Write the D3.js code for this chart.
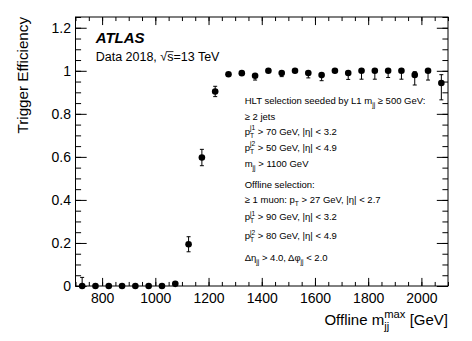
<!DOCTYPE html>
<html>
<head>
<meta charset="utf-8">
<script src="https://cdn.jsdelivr.net/npm/d3@7"></script>
<style>
  html, body { margin: 0; padding: 0; background: #fff; }
  text { font-family: "Liberation Sans", Arial, Helvetica, sans-serif; fill: #000; white-space: pre; }
</style>
</head>
<body>
<div id="chart"></div>
<script>
// bin centres of the offline m_jj^max histogram (GeV)
const binCenters = [725, 775, 825, 875, 925, 975, 1025, 1075, 1125, 1175, 1225, 1275, 1325, 1375,
  1425, 1475, 1525, 1575, 1625, 1675, 1725, 1775, 1825, 1875, 1925, 1975, 2025, 2075];
const efficiency = [0, 0, 0, 0, 0, 0, 0, 0.01, 0.194, 0.597, 0.904, 0.984, 0.989, 0.977,
  1.0, 0.99, 1.0, 0.99, 0.98, 1.0, 0.99, 1.0, 1.0, 1.0, 1.0, 0.981, 1.0, 0.943];
const errUp = [0.04, 0.01, 0.01, 0.005, 0.005, 0.005, 0.005, 0.01, 0.035, 0.038, 0.024, 0.008, 0.007, 0.01,
  0, 0.007, 0, 0.007, 0.01, 0, 0.008, 0, 0, 0, 0, 0.015, 0, 0.039];
const errDown = [0, 0, 0, 0, 0, 0, 0, 0.006, 0.035, 0.038, 0.024, 0.012, 0.012, 0.02,
  0.01, 0.017, 0.01, 0.023, 0.026, 0.012, 0.03, 0.039, 0.039, 0.031, 0.039, 0.047, 0.043, 0.078];

const xMajorTicks = [800, 1000, 1200, 1400, 1600, 1800, 2000];
const xMinorTicks = d3.range(700, 2101, 50);
const yMajorTicks = [0, 0.2, 0.4, 0.6, 0.8, 1, 1.2];
const yMinorTicks = d3.range(0, 1.2501, 0.05);
const yTickLabels = ["0", "0.2", "0.4", "0.6", "0.8", "1", "1.2"];

// selection text, one entry per line
const selectionLines = [
  [{t: "HLT selection seeded by L1 m"}, {t: "jj", sub: true}, {t: " \u2265 500 GeV:"}],
  [{t: "\u2265 2 jets"}],
  [{t: "p"}, {t: "j1", sup: true}, {t: "T", sub: true, stack: true}, {t: " > 70 GeV, |\u03b7| < 3.2"}],
  [{t: "p"}, {t: "j2", sup: true}, {t: "T", sub: true, stack: true}, {t: " > 50 GeV, |\u03b7| < 4.9"}],
  [{t: "m"}, {t: "jj", sub: true}, {t: " > 1100 GeV"}],
  [{t: "Offline selection:"}],
  [{t: "\u2265 1 muon: p"}, {t: "T", sub: true}, {t: " > 27 GeV, |\u03b7| < 2.7"}],
  [{t: "p"}, {t: "j1", sup: true}, {t: "T", sub: true, stack: true}, {t: " > 90 GeV, |\u03b7| < 3.2"}],
  [{t: "p"}, {t: "j2", sup: true}, {t: "T", sub: true, stack: true}, {t: " > 80 GeV, |\u03b7| < 4.9"}],
  [{t: "\u0394\u03b7"}, {t: "jj", sub: true}, {t: " > 4.0, \u0394\u03c6"}, {t: "jj", sub: true}, {t: " < 2.0"}],
];
const selectionBaselines = [104, 119.7, 134.7, 150.7, 167.3, 187.7, 203.3, 220, 239.3, 261];

const width = 472, height = 341;
const margin = {top: 17, right: 24, bottom: 55, left: 75.5};

const svg = d3.select('#chart').append('svg')
  .attr('width', width)
  .attr('height', height);

const x = d3.scaleLinear().domain([700, 2100]).range([margin.left, width - margin.right]);
const y = d3.scaleLinear().domain([0, 1.25]).range([height - margin.bottom, margin.top]);

const plotW = x.range()[1] - x.range()[0];
const plotH = y.range()[0] - y.range()[1];

// draws a line of text with sub/superscripts, returns the group
function richText(parent, px, py, segs, fs, anchor, scale) {
  const g = parent.append('g');
  let cx = 0, prevStart = 0, prevW = 0;
  segs.forEach((s) => {
    const size = s.sub || s.sup ? fs * (scale || 0.7) : fs;
    const dy = s.sub ? fs * (s.subShift || 0.33) : s.sup ? -fs * (s.supShift || 0.45) : 0;
    const start = s.stack ? prevStart : cx;
    const t = g.append('text')
      .attr('x', start)
      .attr('y', dy)
      .style('font-size', size + 'px')
      .text(s.t);
    const w = t.node().getComputedTextLength();
    if (s.stack) {
      prevW = Math.max(prevW, w);
      cx = prevStart + prevW;
    } else {
      prevStart = start;
      prevW = w;
      cx = start + w;
    }
  });
  const ox = anchor === 'end' ? px - cx : px;
  g.attr('transform', `translate(${ox},${py})`);
  return g;
}

// axes (ticks pointing inwards, ROOT style)
const xTickLen = plotH * 0.03;
const yTickLen = plotW * 0.03;

function styleAxis(g) {
  g.select('.domain').remove();
  g.selectAll('line').attr('stroke', '#000').attr('stroke-width', 1);
  g.selectAll('text').style('font-size', '14px').attr('fill', '#000');
}

svg.append('g')
  .attr('transform', `translate(0,${y(0)})`)
  .call(d3.axisBottom(x).tickValues(xMajorTicks).tickSize(-xTickLen).tickPadding(7).tickFormat(d3.format('d')))
  .call(styleAxis);
svg.append('g')
  .attr('transform', `translate(0,${y(0)})`)
  .call(d3.axisBottom(x).tickValues(xMinorTicks).tickSize(-xTickLen / 2).tickFormat(''))
  .call(styleAxis);
svg.append('g')
  .attr('transform', `translate(0,${y.range()[1]})`)
  .call(d3.axisTop(x).tickValues(xMajorTicks).tickSize(-xTickLen).tickFormat(''))
  .call(styleAxis);
svg.append('g')
  .attr('transform', `translate(0,${y.range()[1]})`)
  .call(d3.axisTop(x).tickValues(xMinorTicks).tickSize(-xTickLen / 2).tickFormat(''))
  .call(styleAxis);

svg.append('g')
  .attr('transform', `translate(${x.range()[0]},0)`)
  .call(d3.axisLeft(y).tickValues(yMajorTicks).tickSize(-yTickLen).tickPadding(4.5)
    .tickFormat((d, i) => yTickLabels[i]))
  .call(styleAxis);
svg.append('g')
  .attr('transform', `translate(${x.range()[0]},0)`)
  .call(d3.axisLeft(y).tickValues(yMinorTicks).tickSize(-yTickLen / 2).tickFormat(''))
  .call(styleAxis);
svg.append('g')
  .attr('transform', `translate(${x.range()[1]},0)`)
  .call(d3.axisRight(y).tickValues(yMajorTicks).tickSize(-yTickLen).tickFormat(''))
  .call(styleAxis);
svg.append('g')
  .attr('transform', `translate(${x.range()[1]},0)`)
  .call(d3.axisRight(y).tickValues(yMinorTicks).tickSize(-yTickLen / 2).tickFormat(''))
  .call(styleAxis);

// frame
svg.append('rect')
  .attr('x', x.range()[0])
  .attr('y', y.range()[1])
  .attr('width', plotW)
  .attr('height', plotH)
  .attr('fill', 'none')
  .attr('stroke', '#000')
  .attr('stroke-width', 1);

// data points with asymmetric error bars
const data = binCenters.map((c, i) => ({c, v: efficiency[i], up: errUp[i], dn: errDown[i]}));
const pts = svg.append('g').selectAll('g').data(data).enter().append('g');

pts.append('line')
  .attr('x1', (d) => x(d.c)).attr('x2', (d) => x(d.c))
  .attr('y1', (d) => y(d.v + d.up)).attr('y2', (d) => y(d.v - d.dn))
  .attr('stroke', '#000').attr('stroke-width', 1);
pts.filter((d) => d.up > 0.012).append('line')
  .attr('x1', (d) => x(d.c) - 2).attr('x2', (d) => x(d.c) + 2)
  .attr('y1', (d) => y(d.v + d.up)).attr('y2', (d) => y(d.v + d.up))
  .attr('stroke', '#000');
pts.filter((d) => d.dn > 0.012).append('line')
  .attr('x1', (d) => x(d.c) - 2).attr('x2', (d) => x(d.c) + 2)
  .attr('y1', (d) => y(d.v - d.dn)).attr('y2', (d) => y(d.v - d.dn))
  .attr('stroke', '#000');
pts.append('circle')
  .attr('cx', (d) => x(d.c))
  .attr('cy', (d) => y(d.v))
  .attr('r', 3.3)
  .attr('fill', '#000');

// axis titles
richText(svg, x.range()[1], 325,
  [{t: "Offline m"}, {t: "max", sup: true, supShift: 0.48}, {t: "jj", sub: true, stack: true, subShift: 0.36}, {t: " [GeV]"}],
  15, 'end', 0.75);

svg.append('text')
  .attr('transform', `translate(28,${y.range()[1]}) rotate(-90)`)
  .attr('text-anchor', 'end')
  .style('font-size', '15.2px')
  .text('Trigger Efficiency');

// ATLAS label
svg.append('text')
  .attr('x', 95.7).attr('y', 43)
  .style('font-size', '15px')
  .style('font-weight', 'bold')
  .style('font-style', 'italic')
  .text('ATLAS');

const dataLbl = svg.append('text').attr('x', 95.7).attr('y', 61).style('font-size', '12.5px');
dataLbl.append('tspan').text('Data 2018, \u221a');
dataLbl.append('tspan').attr('class', 'rt').text('s');
dataLbl.append('tspan').text('=13 TeV');
// overline of the square root
const sBox = dataLbl.select('.rt').node().getBBox();
svg.append('line')
  .attr('x1', sBox.x - 0.5).attr('x2', sBox.x + sBox.width)
  .attr('y1', 61 - 9.4).attr('y2', 61 - 9.4)
  .attr('stroke', '#000').attr('stroke-width', 0.8);

// selection box text
selectionLines.forEach((segs, i) => {
  richText(svg, 244.7, selectionBaselines[i], segs, 9.5, 'start');
});
</script>
</body>
</html>
